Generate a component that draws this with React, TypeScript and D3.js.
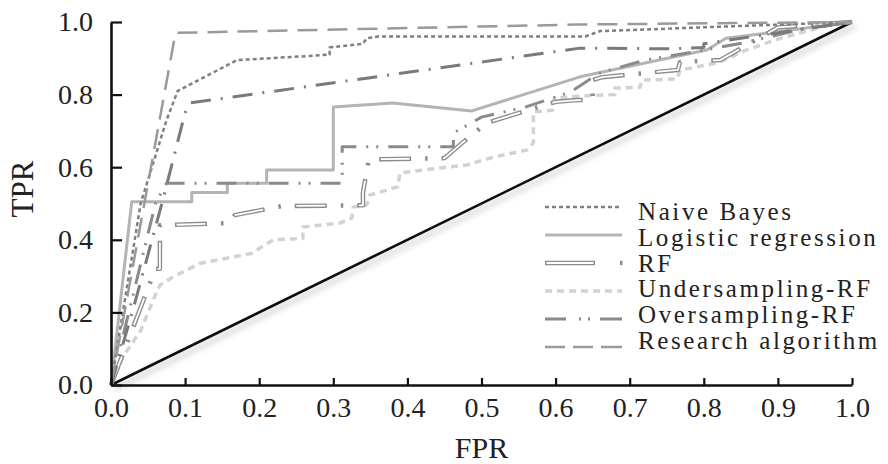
import React, { useEffect, useRef } from 'react';
import * as d3 from 'd3';

// ROC curves, [FPR, TPR] pairs
const naiveBayes = [[0, 0], [0.016, 0.2], [0.04, 0.5], [0.075, 0.73], [0.09, 0.81], [0.17, 0.895], [0.255, 0.905], [0.295, 0.91], [0.295, 0.93], [0.34, 0.94], [0.345, 0.955], [0.36, 0.96], [0.64, 0.96], [0.66, 0.975], [1, 1]];
const logisticRegression = [[0, 0], [0.028, 0.505], [0.109, 0.505], [0.109, 0.53], [0.157, 0.53], [0.157, 0.556], [0.21, 0.556], [0.21, 0.592], [0.3, 0.592], [0.3, 0.766], [0.38, 0.777], [0.487, 0.755], [0.633, 0.849], [0.804, 0.923], [0.83, 0.955], [1, 1]];
const rf = [[0, 0], [0.03, 0.16], [0.06, 0.32], [0.066, 0.32], [0.066, 0.44], [0.16, 0.446], [0.167, 0.468], [0.231, 0.493], [0.34, 0.495], [0.34, 0.53], [0.348, 0.622], [0.367, 0.622], [0.45, 0.625], [0.474, 0.667], [0.507, 0.722], [0.529, 0.736], [0.6, 0.78], [0.629, 0.785], [0.65, 0.785], [0.65, 0.84], [0.663, 0.848], [0.765, 0.868], [0.768, 0.89], [0.822, 0.895], [0.9, 0.985], [1, 1]];
const undersamplingRf = [[0, 0], [0.016, 0.077], [0.04, 0.15], [0.057, 0.234], [0.066, 0.275], [0.084, 0.298], [0.12, 0.335], [0.165, 0.353], [0.19, 0.363], [0.219, 0.4], [0.259, 0.404], [0.259, 0.435], [0.309, 0.446], [0.325, 0.46], [0.327, 0.49], [0.345, 0.496], [0.349, 0.523], [0.387, 0.546], [0.39, 0.584], [0.444, 0.598], [0.48, 0.606], [0.516, 0.628], [0.561, 0.647], [0.57, 0.667], [0.57, 0.752], [0.596, 0.757], [0.598, 0.79], [0.633, 0.796], [0.68, 0.8], [0.68, 0.818], [0.714, 0.82], [0.716, 0.84], [0.764, 0.843], [0.768, 0.868], [0.818, 0.887], [0.858, 0.923], [0.903, 0.955], [0.966, 0.99], [1, 1]];
const oversamplingRf = [[0, 0], [0.03, 0.25], [0.06, 0.5], [0.075, 0.556], [0.312, 0.556], [0.312, 0.656], [0.462, 0.656], [0.462, 0.694], [0.5, 0.738], [0.56, 0.766], [0.62, 0.807], [0.66, 0.86], [0.72, 0.895], [0.78, 0.915], [0.86, 0.945], [0.93, 0.98], [1, 1]];
const researchAlgorithm = [[0, 0], [0.02, 0.22], [0.045, 0.5], [0.087, 0.97], [0.63, 0.993], [1, 1]];
// dash-dot curve drawn in the figure but missing from its legend
const unlabeledCurve = [[0, 0], [0.03, 0.21], [0.07, 0.51], [0.1, 0.75], [0.107, 0.777], [0.633, 0.928], [0.754, 0.926], [0.8, 0.93], [0.8, 0.94], [1, 1]];
const chance = [[0, 0], [1, 1]];

const fprTicks = [0, 0.1, 0.2, 0.3, 0.4, 0.5, 0.6, 0.7, 0.8, 0.9, 1.0];
const tprTicks = [0, 0.2, 0.4, 0.6, 0.8, 1.0];

const legendLabels = ['Naive Bayes', 'Logistic regression', 'RF', 'Undersampling-RF', 'Oversampling-RF', 'Research algorithm'];

const serif = '"Liberation Serif", "Times New Roman", serif';

export default function App() {
  const ref = useRef(null);

  useEffect(() => {
    const svg = d3.select(ref.current);
    svg.selectAll('*').remove();

    const x = d3.scaleLinear().domain([0, 1]).range([111, 852]);
    const y = d3.scaleLinear().domain([0, 1]).range([385, 22]);
    const line = d3.line().x(d => x(d[0])).y(d => y(d[1]));

    const defs = svg.append('defs');
    const f = defs.append('filter').attr('id', 'shadow').attr('x', '-10%').attr('y', '-10%').attr('width', '130%').attr('height', '140%');
    f.append('feDropShadow').attr('dx', 3).attr('dy', 4).attr('stdDeviation', 3).attr('flood-color', '#000').attr('flood-opacity', 0.28);

    // diagonal
    svg.append('path').datum(chance).attr('d', line).attr('fill', 'none')
      .attr('stroke', '#111').attr('stroke-width', 2.6).attr('filter', 'url(#shadow)');

    const plain = (data, color, w, dash) => svg.append('path').datum(data).attr('d', line)
      .attr('fill', 'none').attr('stroke', color).attr('stroke-width', w)
      .attr('stroke-dasharray', dash).attr('stroke-linejoin', 'round');

    plain(undersamplingRf, '#d2d2d2', 3.5, '7 5');
    plain(logisticRegression, '#b4b4b4', 3, null);
    // RF: hollow double dashes followed by a dot
    plain(rf, '#8c8c8c', 4.5, '32 14 2.5 14');
    plain(rf, '#fff', 1.8, '29 33.5').attr('stroke-dashoffset', -1.5);
    plain(oversamplingRf, '#8a8a8a', 3, '20 10 2 8 2 10');
    plain(unlabeledCurve, '#7a7a7a', 3, '20 10 2 10');
    plain(naiveBayes, '#7f7f7f', 2.5, '4 3');
    plain(researchAlgorithm, '#9a9a9a', 2.5, '20 10');

    // axes
    const gx = svg.append('g').attr('transform', `translate(0,${y(0)})`)
      .call(d3.axisBottom(x).tickValues(fprTicks).tickFormat(d3.format('.1f')).tickSizeInner(-7).tickSizeOuter(0).tickPadding(12));
    const gy = svg.append('g').attr('transform', `translate(${x(0)},0)`)
      .call(d3.axisLeft(y).tickValues(tprTicks).tickFormat(d3.format('.1f')).tickSizeInner(-11).tickSizeOuter(0).tickPadding(18));
    [gx, gy].forEach(g => {
      g.select('.domain').attr('stroke', '#111').attr('stroke-width', 2.6);
      g.selectAll('.tick line').attr('stroke', '#111').attr('stroke-width', 2.2);
      g.selectAll('.tick text').attr('fill', '#222').attr('font-family', serif);
    });
    gx.selectAll('.tick text').attr('font-size', 28);
    gy.selectAll('.tick text').attr('font-size', 28);

    svg.append('text').attr('x', x(0.5)).attr('y', 458).attr('text-anchor', 'middle')
      .attr('font-family', serif).attr('font-size', 30).attr('fill', '#222').text('FPR');
    svg.append('text').attr('transform', 'translate(33,189) rotate(-90)').attr('text-anchor', 'middle')
      .attr('font-family', serif).attr('font-size', 31).attr('fill', '#222').text('TPR');

    // legend
    const lg = svg.append('g');
    const lx0 = 545, lx1 = 622;
    const sample = (i, color, w, dash, x0 = lx0, x1 = lx1) => lg.append('line')
      .attr('x1', x0).attr('x2', x1).attr('y1', 207 + i * 28).attr('y2', 207 + i * 28)
      .attr('stroke', color).attr('stroke-width', w).attr('stroke-dasharray', dash);
    sample(0, '#7f7f7f', 2.5, '4 3');
    sample(1, '#b4b4b4', 3, null);
    sample(2, '#8c8c8c', 4.5, null, lx0, 595);
    sample(2, '#fff', 1.8, null, lx0 + 1.5, 593.5);
    sample(2, '#8c8c8c', 4.5, null, 620, 622.5);
    sample(3, '#d2d2d2', 3.5, '7 5');
    sample(4, '#8a8a8a', 3, '21 13 2 7 2 10 22');
    sample(5, '#9a9a9a', 2.5, '20 8 20 8 21');
    legendLabels.forEach((t, i) => {
      lg.append('text').attr('x', 638).attr('y', 220 + i * 25.8)
        .attr('font-family', serif).attr('font-size', 25).attr('letter-spacing', 2.6)
        .attr('fill', '#222').text(t);
    });
  }, []);

  return (
    <div style={{ position: 'absolute', left: 0, top: 0 }}>
      <svg ref={ref} width={888} height={464} style={{ display: 'block', background: '#fff' }} />
    </div>
  );
}
